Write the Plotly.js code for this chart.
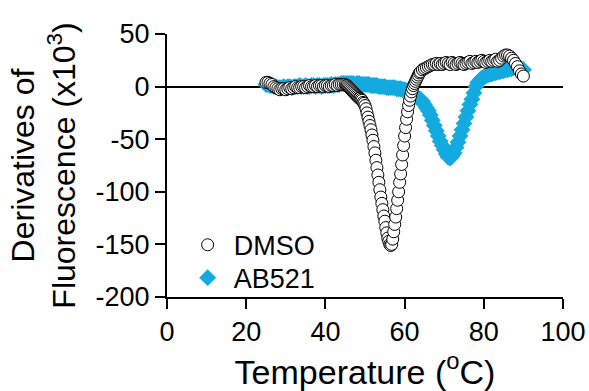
<!DOCTYPE html>
<html>
<head>
<meta charset="utf-8">
<script src="https://cdn.plot.ly/plotly-3.0.1.min.js"></script>
<style>html,body{margin:0;padding:0;background:#fff;}#chart{width:589px;height:391px;}</style>
</head>
<body>
<div id="chart"></div>
<script>
// Temperatures (deg C) and derivative values (x10^3)
var dmsoTemp = [25,25.5,26,26.5,27,27.5,28,28.5,29,29.5,30,30.5,31,31.5,32,32.5,33,33.5,34,34.5,35,35.5,36,36.5,37,37.5,38,38.5,39,39.5,40,40.5,41,41.5,42,42.5,43,43.5,44,44.5,
45,45.25,45.5,45.75,46,46.25,46.5,46.75,47,47.25,47.5,47.75,48,48.25,48.5,48.75,49,49.25,49.5,49.75,50,50.25,50.5,50.75,51,51.25,51.5,51.75,52,52.25,52.5,52.75,53,53.25,53.5,53.75,54,54.25,54.5,54.75,55,55.25,55.5,55.75,56,56.25,56.5,56.75,57,57.25,57.5,57.75,58,58.25,58.5,58.75,59,59.25,59.5,59.75,60,60.25,60.5,60.75,61,61.25,61.5,61.75,62,62.25,62.5,62.75,63,63.25,63.5,63.75,64,
64.5,65,65.5,66,66.5,67,67.5,68,68.5,69,69.5,70,70.5,71,71.5,72,72.5,73,73.5,74,74.5,75,75.5,76,76.5,77,77.5,78,78.5,79,79.5,80,80.5,81,81.5,82,82.5,83,83.5,84,84.5,85,85.5,86,86.5,87,87.5,88,88.5,89,89.5,90];
var dmsoValues = [4,4,3,2,0,-1,-2,-3,-2,-2,-3,-2,-1,-2,-1,0,-1,-1,0,0,-1,0,1,0,0,1,0,1,1,0,1,1,0,1,1,2,1,2,2,2,
2,1,1,0,-1,-2,-3,-4,-5,-6,-7,-8,-9,-10,-11,-11,-12,-13,-15,-16,-18,-21,-25,-29,-33,-37,-41,-46,-51,-57,-63,-70,-77,-84,-91,-98,-105,-111,-117,-123,-128,-134,-139,-144,-147,-150,-151,-150,-145,-138,-131,-124,-116,-108,-100,-91,-83,-74,-65,-56,-47,-39,-31,-24,-18,-13,-9,-5,-2,1,3,5,7,9,11,13,14,
16,17,18,19,20,21,21,22,21,22,21,22,23,22,21,23,22,21,22,23,22,21,22,23,24,22,23,24,23,24,25,24,23,24,25,24,25,26,24,25,27,29,30,30,29,27,25,22,19,15,12,10];

var ab521Temp = [25,25.5,26,26.5,27,27.5,28,28.5,29,29.5,30,30.5,31,31.5,32,32.5,33,33.5,34,34.5,35,35.5,36,36.5,37,37.5,38,38.5,39,39.5,40,40.5,41,41.5,42,42.5,43,43.5,44,44.5,
45,45.5,46,46.5,47,47.5,48,48.5,49,49.5,50,50.5,51,51.5,52,52.5,53,53.5,54,54.5,55,55.5,56,56.5,57,57.5,58,58.5,59,59.5,
60,60.5,61,61.5,62,62.5,63,63.5,64,64.5,65,65.5,66,66.5,67,67.5,68,68.5,69,69.5,70,70.5,71,71.5,
72,72.5,73,73.5,74,74.5,75,75.5,76,76.5,77,77.5,78,78.5,79,79.5,80,80.5,81,81.5,82,82.5,83,83.5,84,84.5,85,85.5,86,86.5,87,87.5,88,88.5,89,89.5,90];
var ab521Values = [2,2,1,1,0,0,-1,-1,-1,0,-1,0,0,-1,0,0,0,1,0,0,1,0,0,1,1,0,1,1,0,1,1,1,1,2,1,2,2,2,3,3,
3,3,3,3,3,2,3,3,2,2,2,2,2,1,1,1,1,0,0,0,0,-1,-1,-1,-1,-1,-2,-2,-2,-3,
-3,-4,-5,-6,-7,-8,-10,-11,-12,-14,-17,-20,-23,-27,-32,-37,-42,-47,-52,-56,-60,-64,-67,-68,
-66,-63,-58,-53,-47,-41,-35,-29,-23,-17,-12,-6,0,4,6,8,9,10,11,12,12,13,13,14,14,15,15,16,16,17,17,18,18,18,18,17,16];

var seriesNames = ['DMSO', 'AB521'];
var xTicks = [0, 20, 40, 60, 80, 100];
var yTicks = [-200, -150, -100, -50, 0, 50];
var yTickText = ['-200', '-150', '-100', '-50', '0', '50'];

var font = 'Liberation Sans, Arial, Helvetica, sans-serif';

var traces = [
  {
    x: ab521Temp, y: ab521Values, name: seriesNames[1], type: 'scatter', mode: 'markers',
    legend: 'legend2',
    marker: {symbol: 'diamond', size: 13, color: '#12AADF', line: {width: 0}},
    cliponaxis: false
  },
  {
    x: dmsoTemp, y: dmsoValues, name: seriesNames[0], type: 'scatter', mode: 'markers',
    legend: 'legend',
    marker: {symbol: 'circle', size: 12, color: '#ffffff', line: {color: '#000000', width: 1}},
    cliponaxis: false
  }
];

var axisCommon = {
  showline: true, linecolor: '#000', linewidth: 2,
  ticks: 'outside', ticklen: 10, tickwidth: 2, tickcolor: '#000',
  showgrid: false, tickfont: {family: font, size: 27, color: '#000'}
};

var legendCommon = {
  xanchor: 'left', yanchor: 'top', itemwidth: 42,
  font: {family: font, size: 27, color: '#000'}, bgcolor: 'rgba(0,0,0,0)'
};

var layout = {
  width: 589, height: 391,
  margin: {l: 167, r: 26, t: 34, b: 94},
  paper_bgcolor: '#fff', plot_bgcolor: '#fff',
  font: {family: font, color: '#000'},
  showlegend: true,
  legend: Object.assign({}, legendCommon, {x: 0.037, y: 0.29}),
  legend2: Object.assign({}, legendCommon, {x: 0.037, y: 0.165}),
  xaxis: Object.assign({}, axisCommon, {
    range: [0, 100], tickvals: xTicks, zeroline: false,
    title: {text: 'Temperature (<sup>o</sup>C)', font: {family: font, size: 34, color: '#000'}, standoff: 8}
  }),
  yaxis: Object.assign({}, axisCommon, {
    range: [-200, 50], tickvals: yTicks, ticktext: yTickText,
    zeroline: true, zerolinecolor: '#000', zerolinewidth: 2,
    title: {text: 'Derivatives of<br>Fluorescence (x10<sup>3</sup>)', font: {family: font, size: 32, color: '#000'}, standoff: 10}
  })
};

Plotly.newPlot('chart', traces, layout, {displayModeBar: false, staticPlot: true});
</script>
</body>
</html>
